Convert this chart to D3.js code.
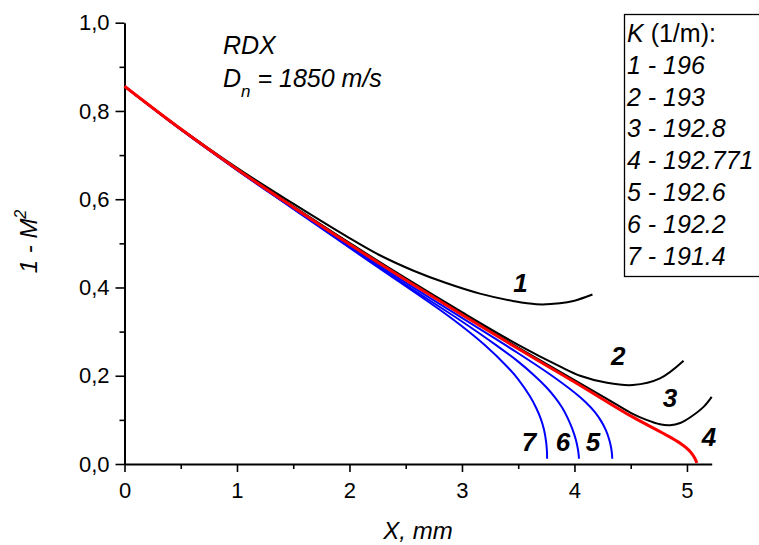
<!DOCTYPE html>
<html>
<head>
<meta charset="utf-8">
<script src="https://cdn.jsdelivr.net/npm/d3@7"></script>
<style>
  body { margin: 0; background: #fff; }
  text { font-family: "Liberation Sans", Arial, sans-serif; fill: #000; }
</style>
</head>
<body>
<div id="chart"></div>
<script>
// data: [X (mm), 1 - M^2]
const curve1 = [[0,0.856],[0.5,0.760],[1.0,0.671],[1.5,0.590],[2.0,0.512],[2.27,0.473],[2.57,0.438],[2.86,0.410],[3.16,0.386],[3.46,0.369],[3.66,0.362],[3.87,0.364],[4.0,0.370],[4.16,0.384]];
const curve2 = [[0,0.856],[0.5,0.759],[1.0,0.669],[1.5,0.584],[2.0,0.501],[2.5,0.421],[3.0,0.344],[3.5,0.270],[3.87,0.221],[4.05,0.200],[4.29,0.184],[4.52,0.179],[4.76,0.194],[4.97,0.234]];
const curve3 = [[0,0.856],[0.5,0.759],[1.0,0.668],[1.5,0.583],[2.0,0.499],[2.5,0.418],[3.0,0.340],[3.5,0.264],[4.0,0.190],[4.3,0.146],[4.5,0.116],[4.64,0.100],[4.76,0.090],[4.85,0.088],[4.94,0.093],[5.03,0.106],[5.15,0.130],[5.22,0.152]];
const curve4 = [[0,0.856],[0.5,0.759],[1.0,0.668],[1.5,0.582],[2.0,0.498],[2.5,0.417],[3.0,0.338],[3.5,0.261],[4.0,0.186],[4.5,0.109],[4.8,0.068],[4.94,0.047],[5.03,0.028],[5.07,0.013],[5.088,0.002]];
const curve5 = [[0,0.856],[0.5,0.758],[1.0,0.667],[1.5,0.580],[2.0,0.494],[2.5,0.411],[3.0,0.331],[3.5,0.251],[3.8,0.200],[4.0,0.162],[4.1,0.140],[4.18,0.118],[4.24,0.096],[4.28,0.076],[4.308,0.056],[4.325,0.038],[4.333,0.024],[4.336,0.012]];
const curve6 = [[0,0.856],[0.5,0.758],[1.0,0.667],[1.5,0.579],[2.0,0.492],[2.5,0.406],[3.0,0.323],[3.3,0.270],[3.5,0.232],[3.65,0.199],[3.75,0.174],[3.83,0.150],[3.89,0.128],[3.94,0.104],[3.98,0.080],[4.01,0.057],[4.028,0.037],[4.037,0.022],[4.04,0.012]];
const curve7 = [[0,0.856],[0.5,0.758],[1.0,0.666],[1.5,0.578],[2.0,0.490],[2.5,0.403],[2.8,0.350],[3.0,0.312],[3.2,0.270],[3.4,0.221],[3.5,0.192],[3.6,0.155],[3.66,0.127],[3.70,0.103],[3.73,0.077],[3.748,0.050],[3.755,0.030],[3.757,0.012]];

const curves = [curve1, curve2, curve3, curve4, curve5, curve6, curve7];
const curveIds = ["1", "2", "3", "4", "5", "6", "7"];
const curveColors = ["#000", "#000", "#000", "#ff0000", "#0000ff", "#0000ff", "#0000ff"];
const curveWidths = [2, 2, 2, 3, 2, 2, 2];
// where the curve numbers sit, in data units
const labelPos = [[3.52,0.390],[4.39,0.224],[4.85,0.129],[5.195,0.041],[4.164,0.029],[3.898,0.029],[3.596,0.029]];

const kValues = ["196", "193", "192.8", "192.771", "192.6", "192.2", "191.4"];
const xTicks = [0, 1, 2, 3, 4, 5];
const yTicks = [0, 0.2, 0.4, 0.6, 0.8, 1.0];

const width = 759, height = 545;

const svg = d3.select("#chart")
    .append("svg")
    .attr("width", width)
    .attr("height", height);

const x = d3.scaleLinear().domain([0, 5.22]).range([124.5, 711.7]);
const y = d3.scaleLinear().domain([0, 1.0]).range([464, 22.7]);

const fmtY = v => d3.format(".1f")(v).replace(".", ",");

// minor ticks first, then major axes on top
svg.append("g")
    .attr("transform", `translate(0,${y(0)})`)
    .call(d3.axisBottom(x).tickValues(d3.range(0.5, 5.2, 1)).tickSize(5).tickFormat(""))
    .call(g => g.select(".domain").remove());
svg.append("g")
    .attr("transform", `translate(${x(0)},0)`)
    .call(d3.axisLeft(y).tickValues(d3.range(0.1, 1, 0.2)).tickSize(5).tickFormat(""))
    .call(g => g.select(".domain").remove());

svg.append("g")
    .attr("transform", `translate(0,${y(0)})`)
    .call(d3.axisBottom(x).tickValues(xTicks).tickSize(8).tickSizeOuter(0).tickPadding(10).tickFormat(d3.format("d")));
svg.append("g")
    .attr("transform", `translate(${x(0)},0)`)
    .call(d3.axisLeft(y).tickValues(yTicks).tickSize(9).tickSizeOuter(0).tickPadding(6).tickFormat(fmtY));

svg.selectAll(".domain").attr("stroke-width", 2);
svg.selectAll(".tick line").attr("stroke-width", 1.6);
svg.selectAll(".tick text")
    .style("font-family", '"Liberation Sans", Arial, sans-serif')
    .style("font-size", "22px");

// curves: blue first, black, red on top
const line = d3.line()
    .x(d => x(d[0]))
    .y(d => y(d[1]))
    .curve(d3.curveCatmullRom.alpha(0.5));

svg.append("g")
    .selectAll("path")
    .data([4, 5, 6, 0, 1, 2, 3])
    .join("path")
    .attr("d", i => line(curves[i]))
    .attr("fill", "none")
    .attr("stroke", i => curveColors[i])
    .attr("stroke-width", i => curveWidths[i]);

// curve numbers
svg.append("g")
    .selectAll("text")
    .data(curveIds)
    .join("text")
    .attr("x", (d, i) => x(labelPos[i][0]))
    .attr("y", (d, i) => y(labelPos[i][1]))
    .attr("text-anchor", "middle")
    .style("font-size", "26px")
    .style("font-weight", "bold")
    .style("font-style", "italic")
    .text(d => d);

// annotation
svg.append("text")
    .attr("x", 223).attr("y", 54)
    .style("font-size", "25px").style("font-style", "italic")
    .text("RDX");
const dn = svg.append("text")
    .attr("x", 223).attr("y", 87)
    .style("font-size", "25px").style("font-style", "italic");
dn.append("tspan").text("D");
dn.append("tspan").attr("dy", 10).style("font-size", "17px").text("n");
dn.append("tspan").attr("dy", -10).text(" = 1850 m/s");

// legend box
svg.append("rect")
    .attr("x", 624.5).attr("y", 14.5)
    .attr("width", 140).attr("height", 262)
    .attr("fill", "none").attr("stroke", "#000").attr("stroke-width", 1.3);
const leg = svg.append("text")
    .attr("x", 627).attr("y", 41.7)
    .style("font-size", "25px");
leg.append("tspan").style("font-style", "italic").text("K");
leg.append("tspan").text(" (1/m):");
svg.append("g")
    .selectAll("text")
    .data(kValues)
    .join("text")
    .attr("x", 627)
    .attr("y", (d, i) => 41.7 + 31.9 * (i + 1))
    .style("font-size", "25px")
    .style("font-style", "italic")
    .text((d, i) => `${curveIds[i]} - ${d}`);

// axis titles
svg.append("text")
    .attr("x", 418).attr("y", 539)
    .attr("text-anchor", "middle")
    .style("font-size", "24px").style("font-style", "italic")
    .text("X, mm");
const yt = svg.append("text")
    .attr("transform", "translate(37,241.5) rotate(-90)")
    .attr("text-anchor", "middle")
    .style("font-size", "24px").style("font-style", "italic");
yt.append("tspan").text("1 - M");
yt.append("tspan").attr("dy", -11).style("font-size", "16px").text("2");
</script>
</body>
</html>
